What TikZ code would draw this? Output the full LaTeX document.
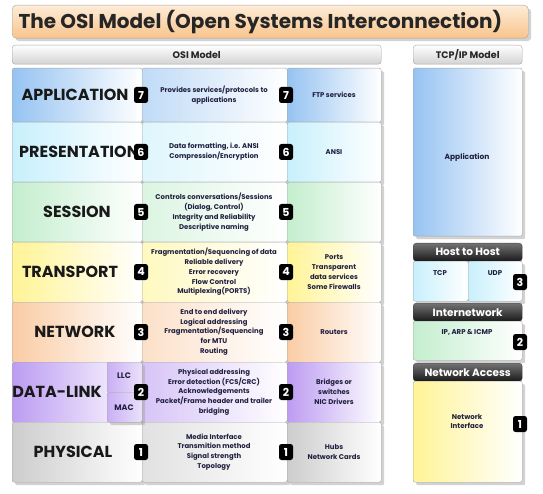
\documentclass[tikz,border=0pt]{standalone}
\usepackage{fontspec}
\setmainfont{Poppins}
\usetikzlibrary{shadows,positioning}

\definecolor{appcol}{RGB}{150,195,242}
\definecolor{prescol}{RGB}{200,240,252}
\definecolor{sesscol}{RGB}{196,238,206}
\definecolor{trancol}{RGB}{255,244,150}
\definecolor{netcol}{RGB}{250,204,165}
\definecolor{dlcol}{RGB}{188,156,242}
\definecolor{phycol}{RGB}{205,205,205}
\definecolor{inkcol}{RGB}{32,32,64}
\definecolor{titletop}{RGB}{253,236,215}
\definecolor{titlebot}{RGB}{248,196,140}

\begin{document}
\begin{tikzpicture}[
  x=1pt, y=-1pt,
  cell/.style={draw=gray!70, rounded corners=2pt, inner sep=0pt, anchor=north west,
    drop shadow={shadow xshift=3pt, shadow yshift=-3pt, fill=black!35, opacity=0.5}},
  info/.style={align=center, text=inkcol, font=\fontsize{6.9}{9.8}\selectfont\bfseries},
  layer/.style={text=black!90, font=\fontsize{16}{18}\selectfont\bfseries},
  badge/.style={fill=black, rounded corners=2.5pt, text=white, inner sep=0pt,
    minimum width=14pt, minimum height=16pt, font=\fontsize{11}{11}\selectfont\bfseries},
  greyhead/.style={draw=gray!70, rounded corners=3pt, top color=white, bottom color=gray!35,
    inner sep=0pt, anchor=north west, text=black!85, font=\fontsize{9.5}{9.5}\selectfont\bfseries},
  darkhead/.style={draw=black!70, rounded corners=3pt, top color=black!55, bottom color=black!90,
    inner sep=0pt, anchor=north west, text=white, font=\fontsize{10.5}{10.5}\selectfont\bfseries}
]
  \useasboundingbox (0,0) rectangle (543,494);

  % Title bar
  \node[draw=gray!70, rounded corners=4pt, top color=titletop, bottom color=titlebot,
    anchor=north west, minimum width=516pt, minimum height=33pt, inner sep=0pt,
    drop shadow={shadow xshift=3pt, shadow yshift=-3pt, fill=black!35, opacity=0.5}]
    (title) at (12,5) {};
  \node[anchor=west, font=\fontsize{20}{20}\selectfont\bfseries, text=black!85]
    (titletxt) at (15,22) {The OSI Model (Open Systems Interconnection)};

  % Column headers
  \node[greyhead, minimum width=369pt, minimum height=19pt] (osihead) at (12,45) {OSI Model};
  \node[greyhead, minimum width=109pt, minimum height=19pt] (tcphead) at (413,45) {TCP/IP Model};

  % OSI layers: name/top/height/colour/description/devices
  \foreach \nm/\rowtop/\rowh/\col/\desc/\dev in {
    app/68/54/appcol/{Provides services/protocols to\\applications}/{FTP services},
    pres/122/60/prescol/{Data formatting, i.e. ANSI\\Compression/Encryption}/{ANSI},
    sess/182/60/sesscol/{Controls conversations/Sessions\\(Dialog, Control)\\Integrity and Reliability\\Descriptive naming}/{},
    tran/242/60/trancol/{Fragmentation/Sequencing of data\\Reliable delivery\\Error recovery\\Flow Control\\Multiplexing(PORTS)}/{Ports\\Transparent\\data services\\Some Firewalls},
    net/302/60/netcol/{End to end delivery\\Logical addressing\\Fragmentation/Sequencing\\for MTU\\Routing}/{Routers},
    dl/362/60/dlcol/{Physical addressing\\Error detection (FCS/CRC)\\Acknowledgements\\Packet/Frame header and trailer\\bridging}/{Bridges or\\switches\\NIC Drivers},
    phy/422/60/phycol/{Media Interface\\Transmition method\\Signal strength\\Topology}/{Hubs\\Network Cards}} {
    \pgfmathsetmacro{\rowmid}{\rowtop+\rowh/2}
    \node[cell, left color=\col, right color=white, minimum width=130pt, minimum height=\rowh pt] (\nm L) at (12,\rowtop) {};
    \node[cell, left color=\col!60, right color=white, minimum width=145pt, minimum height=\rowh pt] (\nm M) at (142,\rowtop) {};
    \node[cell, left color=\col, right color=white, minimum width=94pt, minimum height=\rowh pt] (\nm R) at (287,\rowtop) {};
    \node[info] (\nm desc) at (214,\rowmid) {\desc};
    \node[info] (\nm dev) at (334,\rowmid) {\dev};
  }

  % Layer names
  \node[layer] (applbl) at (75,95) {APPLICATION};
  \node[layer] (preslbl) at (79,152) {PRESENTATION};
  \node[layer] (sesslbl) at (77,212) {SESSION};
  \node[layer] (tranlbl) at (70,272) {TRANSPORT};
  \node[layer] (netlbl) at (75,332) {NETWORK};
  \node[layer] (dllbl) at (57,392) {DATA-LINK};
  \node[layer] (phylbl) at (73,452) {PHYSICAL};

  % LLC / MAC sublayers
  \node[cell, left color=dlcol!80, right color=dlcol!30, minimum width=35pt, minimum height=30pt,
    drop shadow={opacity=0}] (llc) at (107,362) {};
  \node[cell, left color=dlcol!80, right color=dlcol!30, minimum width=35pt, minimum height=30pt,
    drop shadow={opacity=0}] (mac) at (107,392) {};
  \node[info, font=\fontsize{8}{8}\selectfont\bfseries] (llctxt) at (124,376) {LLC};
  \node[info, font=\fontsize{8}{8}\selectfont\bfseries] (mactxt) at (124,408) {MAC};

  % Layer numbers
  \foreach \nm/\num/\y in {app/7/95, pres/6/152, sess/5/212, tran/4/272, net/3/332, dl/2/392, phy/1/452} {
    \node[badge] (\nm numA) at (141,\y) {\num};
    \node[badge] (\nm numB) at (286,\y) {\num};
  }

  % TCP/IP model
  \node[cell, left color=appcol, right color=white, minimum width=109pt, minimum height=168pt] (tcpapp) at (413,68) {};
  \node[info, font=\fontsize{7.5}{9}\selectfont\bfseries] (tcpapptxt) at (467,157) {Application};

  \node[darkhead, minimum width=109pt, minimum height=18pt] (hth) at (413,243) {Host to Host};
  \node[cell, left color=prescol, right color=white, minimum width=55pt, minimum height=40pt] (tcp) at (413,261) {};
  \node[cell, left color=prescol, right color=white, minimum width=54pt, minimum height=40pt] (udp) at (468,261) {};
  \node[info, font=\fontsize{7}{8}\selectfont\bfseries] (tcptxt) at (440,273) {TCP};
  \node[info, font=\fontsize{7}{8}\selectfont\bfseries] (udptxt) at (495,273) {UDP};

  \node[darkhead, minimum width=109pt, minimum height=18pt] (inet) at (413,303) {Internetwork};
  \node[cell, left color=sesscol, right color=white, minimum width=109pt, minimum height=39pt] (inetbody) at (413,321) {};
  \node[info, font=\fontsize{7}{8}\selectfont\bfseries] (inettxt) at (467,332) {IP, ARP \& ICMP};

  \node[darkhead, minimum width=109pt, minimum height=18pt] (nacc) at (413,363) {Network Access};
  \node[cell, left color=trancol, right color=white, minimum width=109pt, minimum height=101pt] (naccbody) at (413,381) {};
  \node[info, font=\fontsize{7}{9}\selectfont\bfseries] (nacctxt) at (467,421) {Network\\Interface};

  \node[badge] (tcpnum3) at (520,282) {3};
  \node[badge] (tcpnum2) at (520,342) {2};
  \node[badge] (tcpnum1) at (520,424) {1};
\end{tikzpicture}
\end{document}
